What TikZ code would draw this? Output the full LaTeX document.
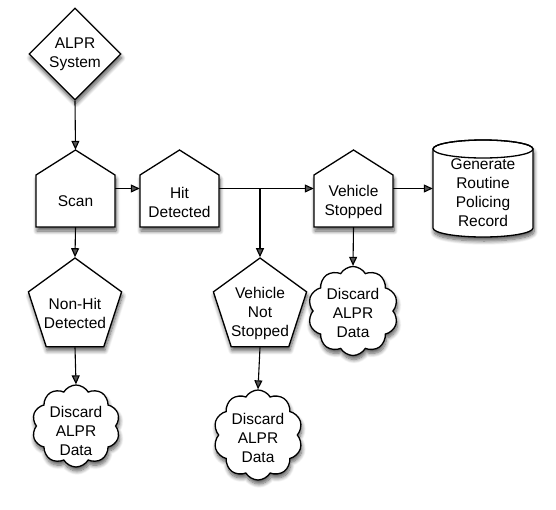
\documentclass[tikz,border=0pt]{standalone}
\usepackage{fontspec}
\setmainfont{Liberation Sans}
\usetikzlibrary{shapes.geometric,shapes.symbols,shadows.blur,arrows.meta}
\begin{document}
\begin{tikzpicture}[x=1pt,y=-1pt,
  lbl/.style={align=center,font=\fontsize{15.5}{19}\selectfont,inner sep=0pt},
  shp/.style={draw=black,line width=1.3pt,fill=white,
    blur shadow={shadow xshift=1pt,shadow yshift=-4pt,shadow blur steps=8,shadow blur radius=4pt,shadow opacity=65}},
  box/.style={draw=none,inner sep=0pt,minimum width=79pt,minimum height=77pt},
  conn/.style={line width=1.1pt,-{Triangle[length=9pt,width=8pt]}},
  house/.pic={\path[shp] (-39.5,-13.5) -- (0,-38.5) -- (39.5,-13.5) -- (39.5,38.5) -- (-39.5,38.5) -- cycle;},
  pent/.style={regular polygon,regular polygon sides=5,minimum size=98pt,inner sep=0pt,shp},
  cld/.style={cloud,cloud puffs=10,cloud puff arc=120,aspect=1,inner sep=0pt,shp}]
\useasboundingbox (0,0) rectangle (556,509);

% ALPR system
\node[diamond,shp,minimum width=92pt,minimum height=92pt,inner sep=0pt,lbl] (alpr) at (75,54) {ALPR\\System};

% houses
\pic at (75.5,188.5) {house};
\node[box] (scan) at (75.5,188.5) {};
\node[lbl] (scant) at (75.5,201) {Scan};

\pic at (179.5,188.5) {house};
\node[box] (hit) at (179.5,188.5) {};
\node[lbl] (hitt) at (179.5,202) {Hit\\Detected};

\pic at (353.5,188.5) {house};
\node[box] (vs) at (353.5,188.5) {};
\node[lbl] (vst) at (353.5,202) {Vehicle\\Stopped};

% cylinder
\path[shp] (433,149) -- (433,228) arc[start angle=180,end angle=0,x radius=50,y radius=9]
  -- (533,149) arc[start angle=0,end angle=-180,x radius=50,y radius=9] -- cycle;
\draw[line width=1.3pt] (483,149) ellipse[x radius=50,y radius=9];
\node[draw=none,inner sep=0pt,minimum width=100pt,minimum height=97pt] (rec) at (483,188.5) {};
\node[lbl] (rect) at (483,193) {Generate\\Routine\\Policing\\Record};

% pentagons
\node[pent] (nonhit) at (75,307) {};
\node[lbl] (nonhitt) at (75,313) {Non-Hit\\Detected};
\node[pent] (vns) at (260,307) {};
\node[lbl] (vnst) at (260,313) {Vehicle\\Not\\Stopped};

% clouds
\node[cld,minimum width=88pt,minimum height=82pt] (c1) at (76,426) {};
\node[lbl] (c1t) at (76,431) {Discard\\ALPR\\Data};
\node[cld,minimum width=89pt,minimum height=90pt] (c2) at (258,435) {};
\node[lbl] (c2t) at (258,438) {Discard\\ALPR\\Data};
\node[cld,minimum width=90pt,minimum height=89pt] (c3) at (353,311) {};
\node[lbl] (c3t) at (353,313) {Discard\\ALPR\\Data};

% connectors
\coordinate (br) at (260,188.5);
\draw[conn] (alpr.south) -- (scan.north);
\draw[conn] (scan.east) -- (hit.west);
\draw[line width=1.1pt] (hit.east) -- (br);
\draw[conn] (br) -- (vs.west);
\draw[conn] (br) -- (vns.north);
\draw[conn] (vs.east) -- (rec.west);
\draw[conn] (scan.south) -- (nonhit.north);
\draw[conn] (nonhit.south) -- (c1.north);
\draw[conn] (vns.south) -- (c2.north);
\draw[conn] (vs.south) -- (c3.north);
\end{tikzpicture}
\end{document}
